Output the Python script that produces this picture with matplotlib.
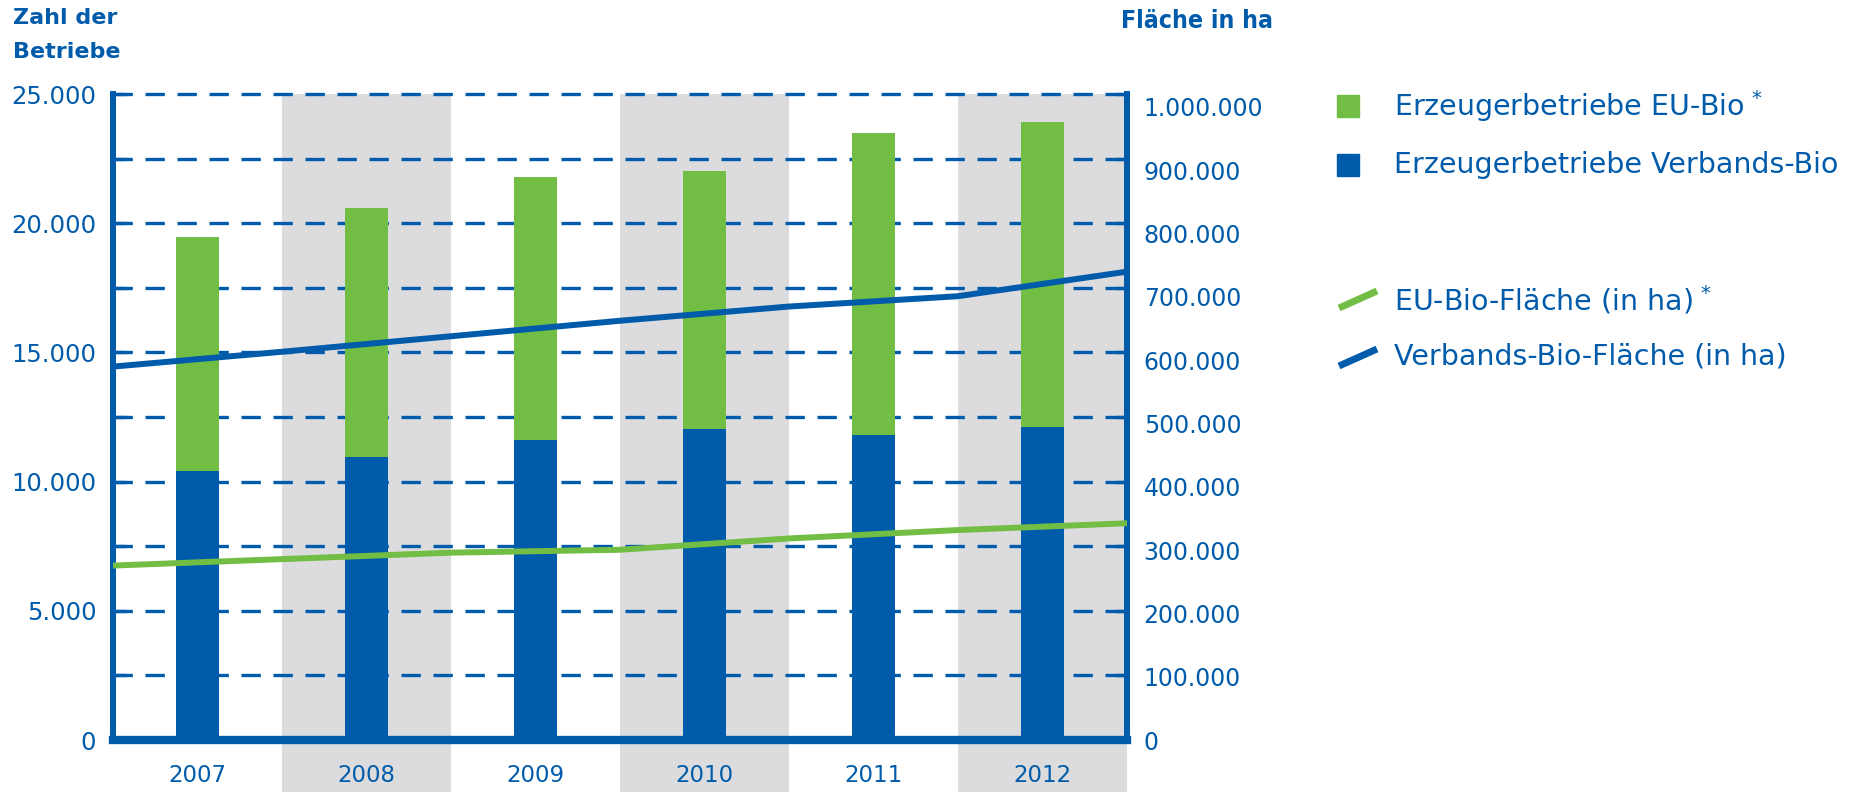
import matplotlib
matplotlib.use("Agg")
import matplotlib.pyplot as plt
import matplotlib.transforms as mtransforms
import matplotlib.lines as lines
import matplotlib.patches as patches
import numpy as np

# data
years = ["2007", "2008", "2009", "2010", "2011", "2012"]
verbands_farms = [10400, 10950, 11600, 12050, 11800, 12120]
eu_farms = [9080, 9650, 10200, 9980, 11690, 11780]
# area lines run from the left to the right border of the plot
eu_area = [270000, 280000, 290000, 294500, 312000, 325000, 335500]
verbands_area = [578000, 601000, 625000, 649000, 671000, 687000, 725000]

farm_ticks = list(range(0, 25001, 2500))
area_ticks = list(range(0, 1000001, 100000))

legend_labels = ["Erzeugerbetriebe EU-Bio$^{\\,*}$", "Erzeugerbetriebe Verbands-Bio",
                 "EU-Bio-Fläche (in ha)$^{\\,*}$", "Verbands-Bio-Fläche (in ha)"]

BLUE = "#005BAA"
GREEN = "#72BD44"
GRAY = "#DCDCDE"

W, H = 1850, 792


def de_format(v):
    return f"{v:,}".replace(",", ".")


fig = plt.figure(figsize=(W / 100, H / 100), dpi=100)
ax = fig.add_axes([113 / W, 1 - 740 / H, (1127 - 113) / W, (740 - 94) / H])
ax.set_xlim(-0.5, len(years) - 0.5)
ax.set_ylim(0, 25000)

x = np.arange(len(years))

# shaded year bands, reaching down through the label area
for i in x[1::2]:
    ax.axvspan(i - 0.5, i + 0.5, ymin=-0.1, ymax=1, color=GRAY, lw=0, zorder=0, clip_on=False)

# dashed grid
ax.hlines(farm_ticks[1:], -0.5, len(years) - 0.5, colors=BLUE, linestyles=(0, (5.8, 3.8)),
          lw=2.4, zorder=1, clip_on=False)

# stacked bars
ax.bar(x, verbands_farms, width=0.25, color=BLUE, zorder=2)
ax.bar(x, eu_farms, bottom=verbands_farms, width=0.25, color=GREEN, zorder=2)

# left axis
ax.set_yticks(farm_ticks)
ax.set_yticklabels([de_format(v) if v % 5000 == 0 else "" for v in farm_ticks])
ax.tick_params(axis="y", direction="in", length=9, width=2.4, color=BLUE,
               labelcolor=BLUE, labelsize=17.5, pad=12)
ax.set_xticks(x)
ax.set_xticklabels(years)
ax.tick_params(axis="x", length=0, labelcolor=BLUE, labelsize=16.5, pad=17)

for side in ["top", "right"]:
    ax.spines[side].set_visible(False)
ax.spines["left"].set_linewidth(4.3)
ax.spines["bottom"].set_linewidth(6)
for side in ["left", "bottom"]:
    ax.spines[side].set_color(BLUE)
    ax.spines[side].set_capstyle("projecting")

# right axis with the areas
ax2 = ax.twinx()
ax2.set_ylim(0, 1000000)
line_x = np.arange(len(years) + 1) - 0.5
ax2.plot(line_x, eu_area, color=GREEN, lw=4.3, solid_capstyle="butt", zorder=3)
ax2.plot(line_x, verbands_area, color=BLUE, lw=4.3, solid_capstyle="butt", zorder=3)
ax2.set_yticks(area_ticks)
ax2.set_yticklabels([de_format(v) for v in area_ticks])
ax2.tick_params(axis="y", direction="in", length=9, width=2.4, color=BLUE,
                labelcolor=BLUE, labelsize=17, pad=12)
# right labels sit a little lower towards the top, as in the original layout
for v, lab in zip(area_ticks, ax2.get_yticklabels()):
    shift = mtransforms.ScaledTranslation(0, -0.13 * v / area_ticks[-1], fig.dpi_scale_trans)
    lab.set_transform(lab.get_transform() + shift)
for side in ["top", "left", "bottom"]:
    ax2.spines[side].set_visible(False)
ax2.spines["right"].set_linewidth(4.3)
ax2.spines["right"].set_color(BLUE)
ax2.spines["right"].set_capstyle("projecting")

# axis titles
fig.text(13 / W, 1 - 8 / H, "Zahl der\nBetriebe", color=BLUE, fontsize=16,
         fontweight="bold", va="top", ha="left", linespacing=1.9)
fig.text(1121 / W, 1 - 21 / H, "Fläche in ha", color=BLUE, fontsize=17.8,
         fontweight="bold", va="center", ha="left", fontstretch="condensed")

# legend
for col, yc in [(GREEN, 106), (BLUE, 165)]:
    fig.add_artist(patches.Rectangle((1337 / W, 1 - (yc + 11) / H), 22 / W, 22 / H,
                                     transform=fig.transFigure, color=col))
for col, yc in [(GREEN, 300), (BLUE, 358)]:
    fig.add_artist(lines.Line2D([1339 / W, 1377 / W], [1 - (yc + 8) / H, 1 - (yc - 9) / H],
                                transform=fig.transFigure, color=col, lw=5,
                                solid_capstyle="butt"))
for lab, yc in zip(legend_labels, [106, 165, 300, 357]):
    fig.text(1394 / W, 1 - yc / H, lab, color=BLUE, fontsize=20.5, va="center", ha="left")

fig.savefig("out.png", dpi=100)
